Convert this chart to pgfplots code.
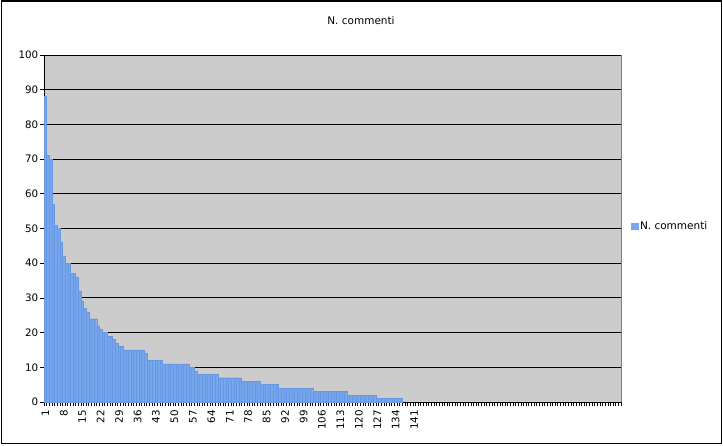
\documentclass[border=0pt]{standalone}
\usepackage{fontspec}
\setmainfont{DejaVu Sans}
\usepackage{pgfplots}
\pgfplotsset{compat=1.18}
\usepackage{pgfplotstable}
\definecolor{barblue}{RGB}{120,166,236}
\definecolor{baredge}{RGB}{104,152,228}
\definecolor{plotgray}{RGB}{204,204,204}
\definecolor{bordergray}{RGB}{128,128,128}

\pgfplotstableread{
x y
1 88
2 71
3 70
4 57
5 51
6 50
7 46
8 42
9 40
10 40
11 37
12 37
13 36
14 32
15 29
16 27
17 26
18 24
19 24
20 24
21 22
22 21
23 20
24 20
25 19
26 19
27 18
28 17
29 16
30 16
31 15
32 15
33 15
34 15
35 15
36 15
37 15
38 15
39 14
40 12
41 12
42 12
43 12
44 12
45 12
46 11
47 11
48 11
49 11
50 11
51 11
52 11
53 11
54 11
55 11
56 10
57 10
58 9
59 8
60 8
61 8
62 8
63 8
64 8
65 8
66 8
67 7
68 7
69 7
70 7
71 7
72 7
73 7
74 7
75 7
76 6
77 6
78 6
79 6
80 6
81 6
82 6
83 5
84 5
85 5
86 5
87 5
88 5
89 5
90 4
91 4
92 4
93 4
94 4
95 4
96 4
97 4
98 4
99 4
100 4
101 4
102 4
103 3
104 3
105 3
106 3
107 3
108 3
109 3
110 3
111 3
112 3
113 3
114 3
115 3
116 2
117 2
118 2
119 2
120 2
121 2
122 2
123 2
124 2
125 2
126 2
127 1
128 1
129 1
130 1
131 1
132 1
133 1
134 1
135 1
136 1
}\datatable

\begin{document}
\begin{tikzpicture}
\path[use as bounding box] (0bp,0bp) rectangle (723bp,446bp);
\draw[black, line width=1.5bp] (1.5bp,2.5bp) rectangle (721.5bp,445bp);
\node[font=\fontsize{10.5bp}{12bp}\selectfont] at (361bp,425bp) {N. commenti};
\begin{axis}[
  at={(44bp,44bp)}, anchor=south west,
  scale only axis, width=577bp, height=347bp,
  xmin=0.5, xmax=219.5, ymin=0, ymax=100,
  axis background/.style={fill=plotgray},
  axis x line*=bottom, axis y line*=left,
  axis line style={black, line width=0.8bp, -},
  tick align=outside,
  tick style={black, line width=0.6bp},
  major tick length=3.5bp,
  ytick={0,10,...,100},
  xtick={0.5,1.5,...,219.5},
  xticklabels={},
  extra x ticks={1,8,...,141},
  extra x tick style={major tick length=0pt},
  xticklabel style={rotate=90, anchor=east, inner sep=0pt, xshift=-8bp},
  yticklabel style={inner sep=2bp},
  ymajorgrids=true,
  grid style={black, line width=0.9bp},
  /pgf/number format/assume math mode=true,
  tick label style={font=\fontsize{10.3bp}{12bp}\selectfont},
  legend style={at={(1,0.5)}, anchor=west, xshift=10bp, yshift=2bp,
    draw=none, fill=none, inner sep=0pt,
    nodes={inner sep=2bp},
    font=\fontsize{10.5bp}{12bp}\selectfont},
  legend image code/.code={\fill[barblue] (0bp,-3bp) rectangle (6.5bp,3.5bp);},
  clip=false,
]
\addplot[ybar, bar width=1, bar shift=0pt, fill=barblue, draw=baredge, line width=0.3bp] table[x=x,y=y] {\datatable};
\addlegendentry{N. commenti}
\draw[bordergray, line width=1bp] (rel axis cs:1,0) -- (rel axis cs:1,1);
\end{axis}
\end{tikzpicture}
\end{document}
